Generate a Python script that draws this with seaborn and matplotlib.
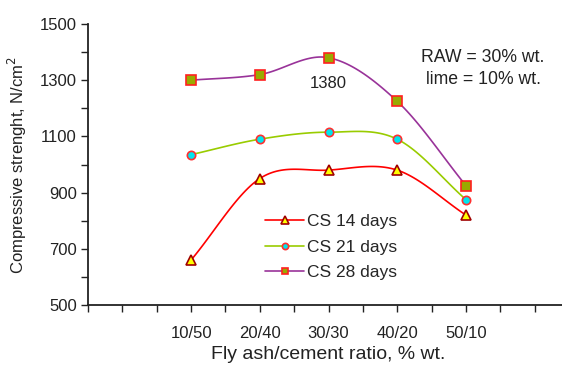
import numpy as np
import pandas as pd
import matplotlib
matplotlib.use("Agg")
import matplotlib.pyplot as plt
import seaborn as sns
from matplotlib.ticker import MultipleLocator, FixedLocator, FixedFormatter

categories = ["10/50", "20/40", "30/30", "40/20", "50/10"]
cs14 = [660, 950, 980, 980, 820]
cs21 = [1035, 1090, 1115, 1090, 875]
cs28 = [1300, 1320, 1380, 1225, 925]
series_names = ["CS 14 days", "CS 21 days", "CS 28 days"]
y_ticks = [500, 700, 900, 1100, 1300, 1500]

sns.set_theme(style="white")
plt.rcParams["font.family"] = ["Liberation Sans", "DejaVu Sans"]

fig = plt.figure(figsize=(5.62, 3.65), dpi=100)
ax = fig.add_axes([88/562, 60/365, (569-88)/562, (305-24)/365])


def catmull(xs, ys, n=30):
    xs = np.asarray(xs, float); ys = np.asarray(ys, float)
    P = np.column_stack([xs, ys])
    P = np.vstack([2*P[0]-P[1], P, 2*P[-1]-P[-2]])
    out = []
    for i in range(1, len(P)-2):
        p0, p1, p2, p3 = P[i-1], P[i], P[i+1], P[i+2]
        t = np.linspace(0, 1, n)[:, None]
        c = 0.5*((2*p1) + (-p0+p2)*t + (2*p0-5*p1+4*p2-p3)*t**2 + (-p0+3*p1-3*p2+p3)*t**3)
        out.append(c if i == 1 else c[1:])
    return np.vstack(out)

styles = [
    dict(line="#FF0000", marker="^", face="#FFFF00", edge="#A00000", size=7),
    dict(line="#99CC00", marker="o", face="#00E5EE", edge="#FF3030", size=6),
    dict(line="#993399", marker="s", face="#99AA00", edge="#FF2020", size=6.5),
]

xpos = np.arange(len(categories))
for vals, name, st in zip([cs14, cs21, cs28], series_names, styles):
    curve = catmull(xpos, vals)
    df = pd.DataFrame({"x": curve[:, 0], "y": curve[:, 1]})
    sns.lineplot(data=df, x="x", y="y", ax=ax, color=st["line"], lw=1.2, sort=False)
    ax.plot(xpos, vals, linestyle="none", marker=st["marker"], ms=st["size"],
            mfc=st["face"], mec=st["edge"], mew=1.2, zorder=5)

handles = [plt.Line2D([], [], color=st["line"], lw=1.2, marker=st["marker"], ms=st["size"] - 1.5,
                      mfc=st["face"], mec=st["edge"], mew=1.2) for st in styles]
ax.legend(handles, series_names, loc="upper left", bbox_to_anchor=(177/481, 91/281),
          frameon=False, fontsize=12.5, handlelength=2.25, handletextpad=0.15,
          labelspacing=0.6, borderaxespad=0, borderpad=0)

ax.set_xlim(-1.5, 5.5)
ax.set_ylim(500, 1500)
ax.xaxis.set_major_locator(FixedLocator(list(xpos)))
ax.xaxis.set_major_formatter(FixedFormatter(categories))
ax.xaxis.set_minor_locator(MultipleLocator(0.5))
ax.yaxis.set_major_locator(FixedLocator(y_ticks))
ax.yaxis.set_minor_locator(MultipleLocator(100))
ax.tick_params(axis="x", which="major", length=5, width=1, pad=10, labelsize=12, colors="#222222", bottom=True)
ax.tick_params(axis="x", which="minor", length=5, width=1, bottom=True, colors="#222222")
ax.tick_params(axis="y", which="both", length=5, width=1, pad=3, labelsize=12, colors="#222222", left=True)
for s in ["top", "right"]:
    ax.spines[s].set_visible(False)
for s in ["left", "bottom"]:
    ax.spines[s].set_color("#222222")
    ax.spines[s].set_linewidth(1.3)

ax.set_xlabel("Fly ash/cement ratio, % wt.", fontsize=14, color="#222222", labelpad=4)
ax.set_ylabel("Compressive strenght, N/cm$^2$", fontsize=12, color="#222222", labelpad=8)

ax.text(2, 1288, "1380", ha="center", va="center", fontsize=12, color="#222222")
fig.text(483/562, 1-58/365, "RAW = 30% wt.", ha="center", va="center", fontsize=12.7, color="#222222")
fig.text(483/562, 1-80/365, "lime = 10% wt.", ha="center", va="center", fontsize=12.7, color="#222222")

fig.savefig("out.png", dpi=100)
